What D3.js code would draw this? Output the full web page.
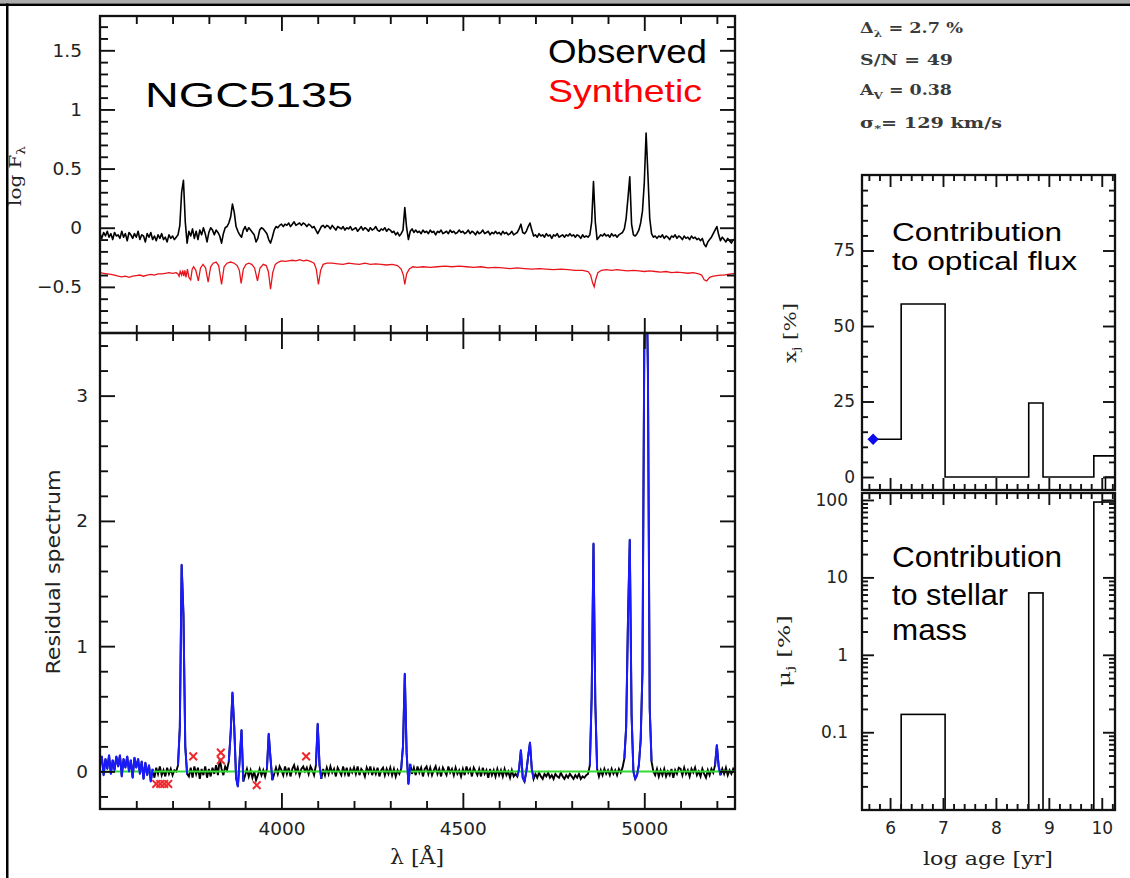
<!DOCTYPE html>
<html>
<head>
<meta charset="utf-8">
<script src="https://cdn.jsdelivr.net/npm/d3@7"></script>
<style>
  body { margin: 0; background: #fff; }
  svg { display: block; }
</style>
</head>
<body>
<svg id="chart" width="1130" height="878"></svg>
<script>
// ---- data ----
// observed / residual spectra sampled every 5 A from 3500 A
const lambdaStart = 3500, lambdaStep = 5;

const observedLogF = [
  -0.05,-0.09,-0.04,-0.07,-0.03,-0.08,-0.05,-0.10,-0.04,-0.07,-0.06,-0.09,-0.03,-0.08,-0.05,-0.11,-0.04,-0.06,-0.09,-0.05,
  -0.08,-0.03,-0.10,-0.06,-0.07,-0.12,-0.05,-0.08,-0.04,-0.10,-0.07,-0.11,-0.06,-0.09,-0.05,-0.10,-0.08,-0.12,-0.06,-0.09,
  -0.07,-0.10,-0.08,-0.06,0.02,0.30,0.40,0.05,-0.13,-0.03,-0.07,-0.01,-0.09,-0.03,-0.10,-0.02,-0.06,0.00,-0.05,-0.12,
  -0.04,0.00,-0.02,-0.06,-0.02,-0.04,-0.07,-0.13,-0.05,0.00,0.01,0.04,0.09,0.20,0.13,0.01,-0.03,-0.06,-0.08,-0.02,
  0.01,-0.03,0.00,-0.02,-0.04,-0.06,-0.12,-0.09,-0.02,0.00,-0.01,-0.03,-0.05,-0.10,-0.13,-0.08,-0.02,0.01,0.00,0.02,
  0.03,0.01,0.03,0.02,0.04,0.01,0.03,0.05,0.02,0.03,0.04,0.02,0.04,0.03,0.01,0.03,0.02,0.00,0.01,-0.02,
  -0.05,-0.02,0.01,0.02,0.00,0.02,0.01,-0.01,0.02,0.00,-0.02,0.01,0.00,-0.01,0.01,-0.02,0.00,-0.01,0.01,-0.02,
  -0.01,0.00,-0.03,-0.01,0.01,-0.02,0.00,-0.01,-0.03,0.00,-0.02,-0.01,0.01,-0.02,-0.03,-0.01,-0.02,0.00,-0.03,-0.01,
  -0.02,-0.04,-0.03,-0.06,-0.04,-0.07,-0.05,-0.02,0.17,0.00,-0.10,-0.03,-0.01,-0.04,-0.02,-0.04,-0.03,-0.05,-0.02,-0.04,
  -0.03,-0.05,-0.02,-0.04,-0.03,-0.06,-0.03,-0.04,-0.02,-0.05,-0.04,-0.03,-0.05,-0.02,-0.04,-0.03,-0.05,-0.04,-0.02,-0.04,
  -0.03,-0.05,-0.04,-0.02,-0.05,-0.03,-0.04,-0.06,-0.03,-0.05,-0.04,-0.02,-0.05,-0.04,-0.03,-0.06,-0.04,-0.05,-0.03,-0.05,
  -0.04,-0.06,-0.03,-0.05,-0.04,-0.06,-0.05,-0.03,-0.06,-0.05,-0.04,-0.01,0.03,-0.04,-0.05,-0.03,0.01,0.04,-0.02,-0.07,
  -0.06,-0.08,-0.05,-0.07,-0.06,-0.08,-0.05,-0.07,-0.06,-0.09,-0.06,-0.07,-0.05,-0.08,-0.07,-0.06,-0.08,-0.06,-0.07,-0.05,
  -0.07,-0.06,-0.08,-0.06,-0.07,-0.09,-0.06,-0.08,-0.07,-0.08,-0.06,0.05,0.39,0.05,-0.10,-0.08,-0.06,-0.07,-0.05,-0.07,
  -0.06,-0.08,-0.05,-0.07,-0.06,-0.08,-0.06,-0.05,-0.04,-0.01,0.08,0.25,0.43,0.03,-0.06,-0.07,-0.05,-0.02,0.04,0.14,
  0.38,0.80,0.45,0.08,-0.05,-0.08,-0.07,-0.09,-0.07,-0.08,-0.06,-0.09,-0.07,-0.08,-0.10,-0.07,-0.08,-0.06,-0.09,-0.07,
  -0.08,-0.10,-0.07,-0.09,-0.08,-0.10,-0.07,-0.09,-0.08,-0.10,-0.09,-0.11,-0.09,-0.14,-0.16,-0.12,-0.10,-0.08,-0.05,-0.02,
  0.01,-0.06,-0.11,-0.08,-0.10,-0.12,-0.09,-0.11,-0.13,-0.10,-0.11
];

// synthetic spectrum, [lambda, log F]
const syntheticLogF = [
  [3500,-0.38],[3510,-0.385],[3520,-0.39],[3530,-0.395],[3540,-0.40],[3550,-0.41],[3560,-0.415],[3570,-0.41],
  [3580,-0.42],[3590,-0.41],[3600,-0.405],[3610,-0.40],[3620,-0.41],[3630,-0.40],[3640,-0.395],[3650,-0.40],
  [3660,-0.39],[3670,-0.39],[3680,-0.385],[3690,-0.38],[3700,-0.385],[3710,-0.38],[3715,-0.39],[3718,-0.41],
  [3721,-0.37],[3725,-0.40],[3728,-0.36],[3731,-0.41],[3734,-0.36],[3737,-0.42],[3741,-0.35],[3745,-0.42],
  [3750,-0.44],[3754,-0.35],[3758,-0.33],[3764,-0.36],[3771,-0.45],[3777,-0.34],[3784,-0.31],[3791,-0.34],
  [3798,-0.46],[3805,-0.33],[3812,-0.30],[3820,-0.29],[3827,-0.32],[3835,-0.48],[3842,-0.33],[3850,-0.30],
  [3860,-0.29],[3870,-0.30],[3878,-0.32],[3884,-0.36],[3889,-0.47],[3895,-0.35],[3902,-0.31],[3910,-0.30],
  [3918,-0.31],[3926,-0.34],[3934,-0.45],[3941,-0.34],[3950,-0.31],[3958,-0.32],[3964,-0.37],[3970,-0.52],
  [3976,-0.38],[3983,-0.31],[3992,-0.29],[4000,-0.28],[4010,-0.285],[4020,-0.28],[4030,-0.275],[4040,-0.28],
  [4050,-0.27],[4060,-0.28],[4070,-0.275],[4080,-0.285],[4090,-0.30],[4096,-0.35],[4102,-0.48],[4108,-0.36],
  [4115,-0.31],[4125,-0.30],[4140,-0.30],[4155,-0.305],[4170,-0.31],[4185,-0.30],[4200,-0.305],[4215,-0.31],
  [4230,-0.30],[4245,-0.31],[4260,-0.305],[4275,-0.31],[4290,-0.315],[4305,-0.31],[4320,-0.32],[4330,-0.35],
  [4336,-0.40],[4340,-0.48],[4345,-0.39],[4352,-0.35],[4362,-0.33],[4375,-0.335],[4390,-0.33],[4410,-0.335],
  [4430,-0.33],[4450,-0.325],[4470,-0.33],[4490,-0.325],[4510,-0.33],[4530,-0.335],[4550,-0.33],[4570,-0.34],
  [4590,-0.335],[4610,-0.34],[4630,-0.345],[4650,-0.34],[4670,-0.345],[4690,-0.35],[4710,-0.345],[4730,-0.35],
  [4750,-0.355],[4770,-0.35],[4790,-0.355],[4810,-0.36],[4830,-0.36],[4845,-0.37],[4852,-0.40],[4858,-0.47],
  [4862,-0.50],[4866,-0.44],[4872,-0.38],[4882,-0.36],[4895,-0.355],[4910,-0.36],[4925,-0.355],[4940,-0.36],
  [4955,-0.365],[4970,-0.36],[4985,-0.365],[5000,-0.37],[5015,-0.365],[5030,-0.37],[5045,-0.375],[5060,-0.37],
  [5075,-0.38],[5090,-0.375],[5105,-0.38],[5120,-0.385],[5135,-0.38],[5150,-0.39],[5158,-0.40],[5165,-0.44],
  [5172,-0.45],[5180,-0.42],[5190,-0.41],[5200,-0.405],[5210,-0.40],[5220,-0.40],[5230,-0.395],[5240,-0.39],
  [5250,-0.385]
];

const residualFlux = [
  0.05,0.12,-0.03,0.10,0.02,0.13,-0.02,0.09,0.01,0.12,0.04,0.13,-0.04,0.10,0.03,0.12,0.00,0.09,-0.05,0.11,
  0.03,0.10,-0.02,0.08,-0.06,0.07,-0.03,0.05,-0.08,0.02,-0.05,0.03,-0.02,0.04,-0.03,0.01,-0.04,0.03,-0.02,0.02,
  -0.03,0.01,0.00,0.05,0.35,1.65,1.25,0.20,-0.02,-0.04,0.03,-0.05,0.04,-0.02,0.03,-0.06,0.02,-0.03,0.04,-0.05,
  0.02,-0.04,0.03,-0.02,0.05,-0.03,0.10,0.02,-0.03,0.04,0.01,0.08,0.30,0.63,0.35,-0.05,-0.12,0.10,0.33,-0.08,
  -0.03,0.02,-0.04,0.01,-0.05,0.00,-0.07,-0.03,0.02,-0.03,0.01,-0.04,0.02,0.30,0.10,-0.07,-0.02,0.03,-0.02,0.04,
  0.01,-0.03,0.04,-0.02,0.03,-0.04,0.02,0.05,-0.01,0.03,-0.03,0.02,0.04,0.00,0.03,-0.02,0.04,0.01,-0.03,0.05,
  0.38,0.05,-0.06,0.02,-0.03,0.03,-0.02,0.04,-0.01,0.02,-0.04,0.03,0.00,-0.03,0.04,-0.02,0.03,-0.04,0.02,-0.01,
  0.03,-0.02,0.04,-0.03,0.02,0.00,-0.04,0.03,-0.01,0.04,-0.03,0.02,-0.02,0.03,-0.04,0.01,0.03,-0.03,0.02,-0.02,
  0.03,-0.03,0.02,-0.04,0.01,-0.02,0.02,0.20,0.78,0.15,-0.10,0.06,-0.02,0.03,-0.03,0.04,-0.01,0.03,-0.04,0.02,
  0.04,-0.02,0.03,-0.03,0.01,0.04,-0.02,0.02,-0.04,0.03,0.00,-0.03,0.04,-0.01,0.02,-0.03,0.03,-0.02,0.01,-0.04,
  0.02,-0.03,0.04,-0.01,0.02,-0.04,0.03,0.00,-0.03,0.02,-0.04,0.03,-0.02,0.01,-0.05,0.02,-0.03,0.01,-0.04,0.02,
  -0.03,0.01,-0.04,0.02,-0.03,0.00,-0.05,0.01,-0.04,-0.02,-0.04,0.02,0.17,-0.05,-0.08,0.00,0.12,0.23,0.02,-0.06,
  -0.02,-0.05,-0.01,-0.04,-0.06,-0.02,-0.04,-0.01,-0.05,-0.03,-0.06,-0.02,-0.04,-0.05,-0.01,-0.04,-0.06,-0.03,-0.05,-0.02,
  -0.04,-0.06,-0.03,-0.05,-0.02,-0.06,-0.04,-0.05,-0.03,-0.02,0.05,0.60,1.82,0.55,0.02,-0.04,0.01,-0.03,0.02,-0.02,
  0.01,-0.03,0.02,-0.02,0.01,-0.03,0.02,-0.01,0.03,0.10,0.35,1.20,1.85,0.45,0.00,-0.06,-0.03,0.05,0.25,0.80,
  3.40,4.20,3.20,0.50,0.08,0.00,-0.03,0.02,-0.04,0.01,-0.03,0.02,-0.04,0.00,-0.03,0.02,-0.05,0.01,-0.02,0.03,
  0.02,-0.03,0.03,-0.02,0.01,-0.04,0.02,-0.01,0.03,-0.03,0.00,-0.04,0.02,-0.02,-0.05,0.01,-0.03,0.02,-0.01,0.05,
  0.21,0.04,-0.03,0.02,-0.02,0.03,-0.03,0.01,-0.02,0.02,-0.01
];

// wavelength windows masked in the fit (drawn blue)
const maskedRanges = [
  [3500,3645],[3715,3740],[3855,3895],[3960,3975],[4095,4110],
  [4330,4355],[4650,4695],[4850,4870],[4945,5020],[5195,5210]
];

// clipped pixels (red crosses), [lambda, residual]
const clippedPoints = [
  [3655,-0.10],[3666,-0.10],[3677,-0.10],[3688,-0.10],
  [3757,0.12],[3833,0.15],[3833,0.09],[3932,-0.11],[4068,0.12]
];

// population vectors vs log age
const lightBins = [[5.68,12.5],[6.21,57.3],[7.04,0],[8.62,24.5],[8.89,0],[9.85,7],[10.25,7]];
const lightTail = [[10.07,-4.3],[10.07,0],[10.25,0]];
const youngPoint = [[5.68,12.5]];
const massBins = [
  {x0: 6.21, x1: 7.04, mu: 0.17},
  {x0: 8.62, x1: 8.89, mu: 6.3},
  {x0: 9.85, x1: 10.25, mu: 94}
];

// tick labels
const spectrumTicks = [4000, 4500, 5000];
const logFTicks = [-0.5, 0, 0.5, 1, 1.5];
const residualTicks = [0, 1, 2, 3];
const ageTicks = [6, 7, 8, 9, 10];
const lightTicks = [0, 25, 50, 75];
const massTicks = [0.1, 1, 10, 100];

// ---- layout ----
const svg = d3.select('#chart');
const LP = {left: 100, right: 735, top: 16, mid: 333, bottom: 809};
const RP = {left: 862, right: 1115, top: 175, mid1: 490, mid2: 493, bottom: 810};
const TICK_W = 1.9;

const xSpec = d3.scaleLinear().domain([3500, 5250]).range([LP.left, LP.right]);
const yLogF = d3.scaleLinear().domain([-0.89, 1.79]).range([LP.mid, LP.top]);
const yRes = d3.scaleLinear().domain([-0.3, 3.5]).range([LP.bottom, LP.mid]);
const xAge = d3.scaleLinear().domain([5.47, 10.25]).range([RP.left, RP.right]);
const yLight = d3.scaleLinear().domain([-4.3, 100]).range([RP.mid1, RP.top]);
const yMass = d3.scaleLog().domain([0.0099, 123]).range([RP.bottom, RP.mid2]);

// page frame
svg.append('rect').attr('width', 1130).attr('height', 878).attr('fill', '#fff');
svg.append('rect').attr('width', 1130).attr('height', 3.5).attr('fill', '#ababab');
svg.append('rect').attr('y', 3.5).attr('width', 1130).attr('height', 2.5).attr('fill', '#000');
svg.append('rect').attr('x', 6).attr('y', 3.5).attr('width', 2.5).attr('height', 875).attr('fill', '#000');

const fmt = d3.format('~g');

// one d3 axis per side, major and minor ticks together, all pointing inward;
// minor ticks are shortened after the axis is drawn
function addTicks(scale, orient, pos, major, minor, lenMaj, lenMin, opts = {}) {
  const isMajor = d => major.some(m => Math.abs(m - d) < 1e-9);
  const values = minor.filter(d => !isMajor(d)).concat(major);
  const axis = d3[orient](scale)
    .tickValues(values)
    .tickSizeInner(-lenMaj)
    .tickSizeOuter(0)
    .tickPadding(opts.pad || 0)
    .tickFormat(d => (opts.labels && isMajor(d)) ? fmt(d) : '');
  const vertical = orient === 'axisLeft' || orient === 'axisRight';
  const g = svg.append('g')
    .attr('transform', vertical ? `translate(${pos},0)` : `translate(0,${pos})`)
    .call(axis);
  g.select('.domain').remove();
  const attr = vertical ? 'x2' : 'y2';
  g.selectAll('.tick').each(function(d) {
    const ln = d3.select(this).select('line');
    if (!isMajor(d)) ln.attr(attr, +ln.attr(attr) * lenMin / lenMaj);
  });
  g.selectAll('line').attr('stroke', '#111').attr('stroke-width', TICK_W);
  g.attr('font-family', 'DejaVu Sans').attr('font-size', opts.size || 18.5);
  g.selectAll('text').attr('fill', '#222');
  return g;
}

function box(x0, y0, x1, y1) {
  svg.append('rect')
    .attr('x', x0).attr('y', y0)
    .attr('width', x1 - x0).attr('height', y1 - y0)
    .attr('fill', 'none').attr('stroke', '#111').attr('stroke-width', 2.3);
}

function clip(id, x0, y0, x1, y1) {
  svg.append('clipPath').attr('id', id)
    .append('rect').attr('x', x0).attr('y', y0).attr('width', x1 - x0).attr('height', y1 - y0);
  return `url(#${id})`;
}

// ---- top left: spectra ----
const specMinor = d3.range(3600, 5250, 100);
const clipTop = clip('clipTop', LP.left, LP.top, LP.right, LP.mid);
const obsPairs = observedLogF.map((v, i) => [lambdaStart + i * lambdaStep, v]);

const lineTop = d3.line().x(d => xSpec(d[0])).y(d => yLogF(d[1]));
svg.append('path').datum(syntheticLogF).attr('clip-path', clipTop)
  .attr('d', lineTop).attr('fill', 'none').attr('stroke', '#e8141b').attr('stroke-width', 1.3);
svg.append('path').datum(obsPairs).attr('clip-path', clipTop)
  .attr('d', lineTop).attr('fill', 'none').attr('stroke', '#000').attr('stroke-width', 1.6)
  .attr('stroke-linejoin', 'round');

const logFMinor = d3.range(-0.8, 1.75, 0.1);
addTicks(yLogF, 'axisLeft', LP.left, logFTicks, logFMinor, 15, 8, {labels: true, pad: 18});
addTicks(yLogF, 'axisRight', LP.right, logFTicks, logFMinor, 15, 8);
addTicks(xSpec, 'axisTop', LP.top, spectrumTicks, specMinor, 15, 8);
addTicks(xSpec, 'axisBottom', LP.mid, spectrumTicks, specMinor, 15, 8);
box(LP.left, LP.top, LP.right, LP.mid);

// ---- bottom left: residual ----
const clipRes = clip('clipRes', LP.left, LP.mid, LP.right, LP.bottom);
const resPairs = residualFlux.map((v, i) => [lambdaStart + i * lambdaStep, v]);
const lineRes = d3.line().x(d => xSpec(d[0])).y(d => yRes(d[1]));

svg.append('path').datum(resPairs).attr('clip-path', clipRes)
  .attr('d', lineRes).attr('fill', 'none').attr('stroke', '#000').attr('stroke-width', 1.9);
svg.append('path').datum([[3500, 0], [5250, 0]]).attr('clip-path', clipRes)
  .attr('d', lineRes).attr('fill', 'none').attr('stroke', '#33dd33').attr('stroke-width', 2);
svg.append('g').attr('clip-path', clipRes)
  .selectAll('path').data(maskedRanges).join('path')
  .attr('d', r => lineRes(resPairs.filter(d => d[0] >= r[0] && d[0] <= r[1])))
  .attr('fill', 'none').attr('stroke', '#1a1aff').attr('stroke-width', 2)
  .attr('stroke-linejoin', 'round');
svg.append('g').selectAll('path').data(clippedPoints).join('path')
  .attr('transform', d => `translate(${xSpec(d[0])},${yRes(d[1])})`)
  .attr('d', d3.symbol(d3.symbolX, 40))
  .attr('fill', 'none').attr('stroke', '#f0282c').attr('stroke-width', 2);

const resMinor = d3.range(-0.2, 3.5, 0.2);
addTicks(yRes, 'axisLeft', LP.left, residualTicks, resMinor, 15, 8, {labels: true, pad: 12});
addTicks(yRes, 'axisRight', LP.right, residualTicks, resMinor, 15, 8);
addTicks(xSpec, 'axisTop', LP.mid, spectrumTicks, specMinor, 16, 8);
addTicks(xSpec, 'axisBottom', LP.bottom, spectrumTicks, specMinor, 16, 8, {labels: true, pad: 13});
box(LP.left, LP.mid, LP.right, LP.bottom);

// ---- right top: light fractions ----
const ageMinor = d3.range(5.6, 10.25, 0.2);
const lineLight = d3.line().x(d => xAge(d[0])).y(d => yLight(d[1])).curve(d3.curveStepAfter);
svg.append('path').datum(lightBins).attr('d', lineLight)
  .attr('fill', 'none').attr('stroke', '#000').attr('stroke-width', 1.6);
svg.append('path').datum(lightTail).attr('d', d3.line().x(d => xAge(d[0])).y(d => yLight(d[1])))
  .attr('fill', 'none').attr('stroke', '#000').attr('stroke-width', 1.6);
svg.append('g').selectAll('path').data(youngPoint).join('path')
  .attr('transform', d => `translate(${xAge(d[0])},${yLight(d[1])}) rotate(45)`)
  .attr('d', d3.symbol(d3.symbolSquare, 64))
  .attr('fill', '#0b0bf0');

const lightMinor = d3.range(0, 100, 5);
addTicks(yLight, 'axisLeft', RP.left, lightTicks, lightMinor, 12, 6, {labels: true, pad: 7, size: 17});
addTicks(yLight, 'axisRight', RP.right, lightTicks, lightMinor, 12, 6);
addTicks(xAge, 'axisTop', RP.top, ageTicks, ageMinor, 12, 6);
addTicks(xAge, 'axisBottom', RP.mid1, ageTicks, ageMinor, 12, 6);
box(RP.left, RP.top, RP.right, RP.mid1);

// ---- right bottom: mass fractions ----
svg.append('g').selectAll('rect').data(massBins).join('rect')
  .attr('x', d => xAge(d.x0))
  .attr('y', d => yMass(d.mu))
  .attr('width', d => xAge(d.x1) - xAge(d.x0))
  .attr('height', d => RP.bottom - yMass(d.mu))
  .attr('fill', 'none').attr('stroke', '#000').attr('stroke-width', 1.6);

const massMinor = [];
[0.01, 0.1, 1, 10, 100].forEach(dec => d3.range(2, 10).forEach(k => {
  if (dec * k < 123) massMinor.push(dec * k);
}));
addTicks(yMass, 'axisLeft', RP.left, massTicks, massMinor, 12, 6, {labels: true, pad: 14, size: 17});
addTicks(yMass, 'axisRight', RP.right, massTicks, massMinor, 12, 6);
addTicks(xAge, 'axisTop', RP.mid2, ageTicks, ageMinor, 12, 6);
addTicks(xAge, 'axisBottom', RP.bottom, ageTicks, ageMinor, 12, 6, {labels: true, pad: 12, size: 17});
box(RP.left, RP.mid2, RP.right, RP.bottom);

// ---- texts ----
function label(x, y, str, size, opts = {}) {
  const t = svg.append('text')
    .attr('x', x).attr('y', y)
    .attr('font-family', opts.family || 'Liberation Sans')
    .attr('font-size', size)
    .attr('fill', opts.fill || '#000')
    .text(str);
  if (opts.length) t.attr('textLength', opts.length).attr('lengthAdjust', 'spacingAndGlyphs');
  return t;
}

label(145, 107, 'NGC5135', 35, {length: 208});
label(548, 63, 'Observed', 34, {length: 159});
label(548, 102, 'Synthetic', 32, {length: 154, fill: '#ff0000'});
label(892, 241, 'Contribution', 26, {length: 170});
label(892, 270, 'to optical flux', 26, {length: 185});
label(892, 567, 'Contribution', 30, {length: 170});
label(892, 605, 'to stellar', 30, {length: 116});
label(892, 640, 'mass', 30, {length: 75});

// axis titles
function vlabel(x, y, parts, size, family, length) {
  const t = svg.append('text')
    .attr('transform', `translate(${x},${y}) rotate(-90)`)
    .attr('text-anchor', 'middle')
    .attr('font-family', family)
    .attr('font-size', size)
    .attr('fill', '#222');
  parts.forEach(p => {
    t.append('tspan')
      .attr('dy', p.dy || 0)
      .attr('font-size', p.size || size)
      .text(p.t);
  });
  if (length) t.attr('textLength', length).attr('lengthAdjust', 'spacingAndGlyphs');
  return t;
}

vlabel(21, 176, [{t: 'log F'}, {t: 'λ', dy: 4, size: 11}], 16, 'DejaVu Serif', 60);
vlabel(60, 572, [{t: 'Residual spectrum'}], 20, 'DejaVu Sans', 205);
vlabel(796, 333, [{t: 'x'}, {t: 'j', dy: 4, size: 11}, {t: '  [%]', dy: -4}], 17, 'DejaVu Serif', 60);
vlabel(790, 651, [{t: 'μ'}, {t: 'j', dy: 4, size: 11}, {t: '  [%]', dy: -4}], 17, 'DejaVu Serif', 72);

label(390, 864, 'λ [Å]', 20, {family: 'DejaVu Serif', fill: '#222', length: 54});
label(923, 865, 'log age [yr]', 18, {family: 'DejaVu Serif', fill: '#222', length: 130});

// fit summary
const statLines = [
  [{t: 'Δ'}, {t: 'λ', sub: true}, {t: ' = 2.7 %'}],
  [{t: 'S/N = 49'}],
  [{t: 'A'}, {t: 'V', sub: true}, {t: ' = 0.38'}],
  [{t: 'σ'}, {t: '*', sub: true}, {t: '= 129 km/s'}]
];
const statY = [33, 65, 95, 128];
const statW = [103, 93, 92, 142];
statLines.forEach((parts, i) => {
  const t = svg.append('text')
    .attr('x', 860).attr('y', statY[i])
    .attr('font-family', 'DejaVu Serif')
    .attr('font-weight', 'bold')
    .attr('font-size', 14.5)
    .attr('fill', '#3a3a3a')
    .attr('textLength', statW[i]).attr('lengthAdjust', 'spacingAndGlyphs');
  let shifted = false;
  parts.forEach(p => {
    const dy = p.sub ? 4 : (shifted ? -4 : 0);
    shifted = !!p.sub;
    t.append('tspan').attr('dy', dy).attr('font-size', p.sub ? 10 : 14.5).text(p.t);
  });
});
</script>
</body>
</html>
